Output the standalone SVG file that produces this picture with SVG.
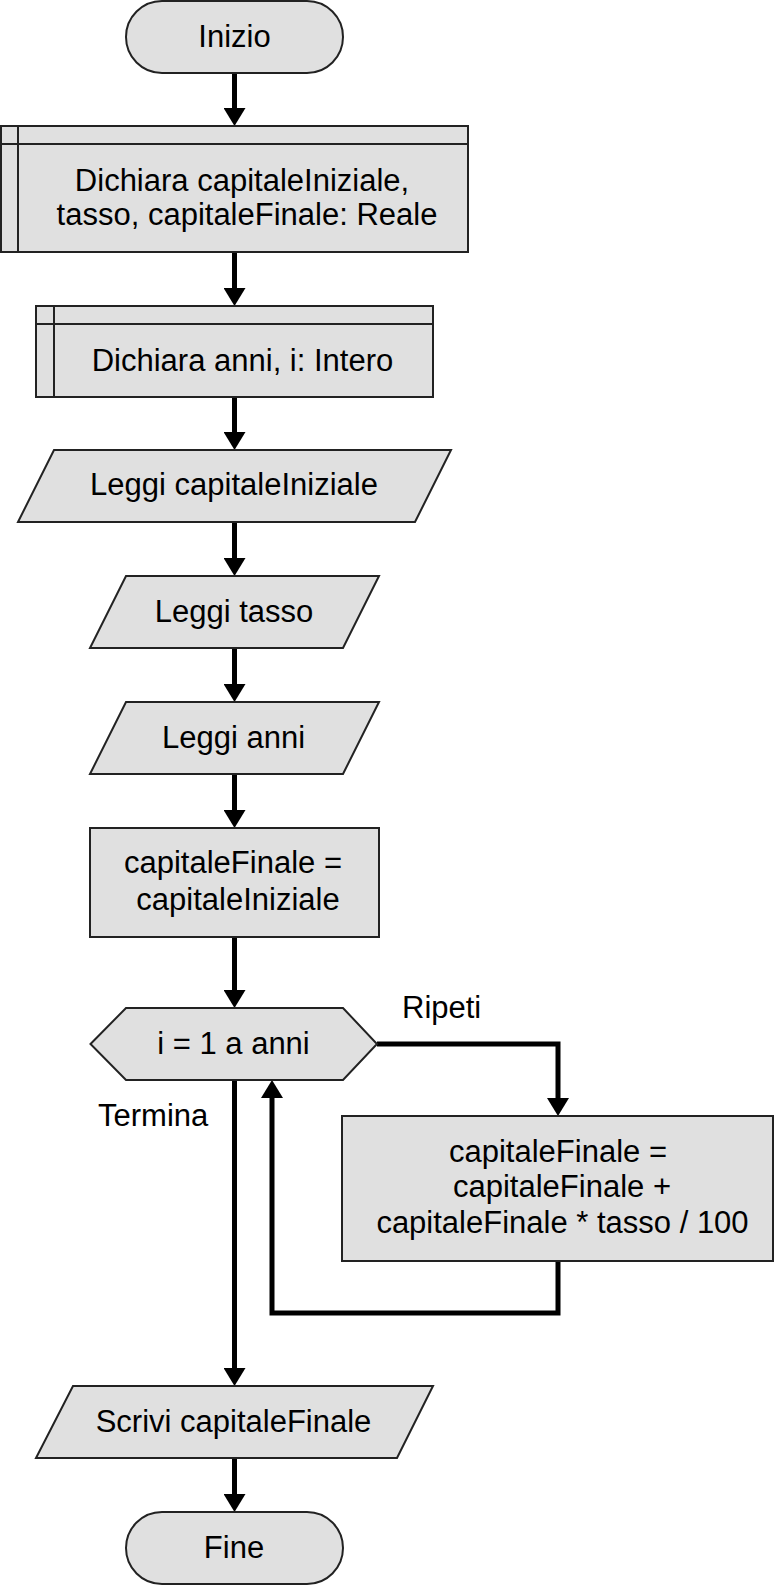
<svg xmlns="http://www.w3.org/2000/svg" width="775" height="1585" viewBox="0 0 775 1585">
<style>
.s{fill:#e0e0e0;stroke:#222;stroke-width:2}
.l{fill:none;stroke:#222;stroke-width:2}
text{font-family:"Liberation Sans",Arial,sans-serif;font-size:31px;fill:#000;text-anchor:middle}
.lab{text-anchor:start}
.c{fill:none;stroke:#000;stroke-width:5;stroke-linejoin:miter}
</style>
<defs>
<marker id="ah" viewBox="0 0 18 22" refX="2" refY="11" markerWidth="18" markerHeight="22" markerUnits="userSpaceOnUse" orient="auto">
<path d="M0,0 L18,11 L0,22 z" fill="#000"/>
</marker>
</defs>
<rect width="775" height="1585" fill="#fff"/>
<g id="connectors">
<line class="c" x1="234.5" y1="73" x2="234.5" y2="110" marker-end="url(#ah)"/>
<line class="c" x1="234.5" y1="252" x2="234.5" y2="290" marker-end="url(#ah)"/>
<line class="c" x1="234.5" y1="397" x2="234.5" y2="434" marker-end="url(#ah)"/>
<line class="c" x1="234.5" y1="522" x2="234.5" y2="560" marker-end="url(#ah)"/>
<line class="c" x1="234.5" y1="648" x2="234.5" y2="686" marker-end="url(#ah)"/>
<line class="c" x1="234.5" y1="774" x2="234.5" y2="812" marker-end="url(#ah)"/>
<line class="c" x1="234.5" y1="937" x2="234.5" y2="992" marker-end="url(#ah)"/>
<polyline class="c" points="377,1044 558,1044 558,1100" marker-end="url(#ah)"/>
<polyline class="c" points="558,1261 558,1313 272,1313 272,1096" marker-end="url(#ah)"/>
<line class="c" x1="234.5" y1="1080" x2="234.5" y2="1370" marker-end="url(#ah)"/>
<line class="c" x1="234.5" y1="1458" x2="234.5" y2="1496" marker-end="url(#ah)"/>
</g>
<g id="inizio">
<rect class="s" x="126" y="1" width="217" height="72" rx="36" ry="36"/>
<text x="234.5" y="47">Inizio</text>
</g>
<g id="dichiara1">
<rect class="s" x="1" y="126" width="467" height="126"/>
<line class="l" x1="18" y1="126" x2="18" y2="252"/>
<line class="l" x1="1" y1="144" x2="468" y2="144"/>
<text x="242" y="191">Dichiara capitaleIniziale,</text>
<text x="247" y="225">tasso, capitaleFinale: Reale</text>
</g>
<g id="dichiara2">
<rect class="s" x="36" y="306" width="397" height="91"/>
<line class="l" x1="54" y1="306" x2="54" y2="397"/>
<line class="l" x1="36" y1="324" x2="433" y2="324"/>
<text x="242.5" y="371">Dichiara anni, i: Intero</text>
</g>
<g id="leggi-capitale">
<polygon class="s" points="54,450 451,450 415,522 18,522"/>
<text x="234" y="495">Leggi capitaleIniziale</text>
</g>
<g id="leggi-tasso">
<polygon class="s" points="126,576 379,576 343,648 90,648"/>
<text x="234" y="622">Leggi tasso</text>
</g>
<g id="leggi-anni">
<polygon class="s" points="126,702 379,702 343,774 90,774"/>
<text x="233.5" y="748">Leggi anni</text>
</g>
<g id="assegna">
<rect class="s" x="90" y="828" width="289" height="109"/>
<text x="233" y="873">capitaleFinale =</text>
<text x="238" y="910">capitaleIniziale</text>
</g>
<g id="ciclo">
<polygon class="s" points="90.5,1044 126,1008 343,1008 377,1044 343,1080 126,1080"/>
<text x="233.5" y="1054">i = 1 a anni</text>
</g>
<g id="labels">
<text class="lab" x="402" y="1018">Ripeti</text>
<text class="lab" x="98" y="1126">Termina</text>
</g>
<g id="calcolo">
<rect class="s" x="342" y="1116" width="431" height="145"/>
<text x="558" y="1162">capitaleFinale =</text>
<text x="562" y="1197">capitaleFinale +</text>
<text x="562.5" y="1233">capitaleFinale * tasso / 100</text>
</g>
<g id="scrivi">
<polygon class="s" points="73,1386 433,1386 397,1458 36,1458"/>
<text x="233.5" y="1432">Scrivi capitaleFinale</text>
</g>
<g id="fine">
<rect class="s" x="126" y="1512" width="217" height="72" rx="36" ry="36"/>
<text x="234" y="1558">Fine</text>
</g>
</svg>
